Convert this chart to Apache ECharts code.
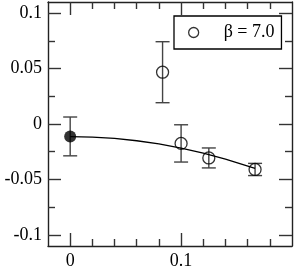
<!DOCTYPE html>
<html><head><meta charset="utf-8">
<script src="https://cdn.jsdelivr.net/npm/echarts@6/dist/echarts.min.js"></script>
<style>html,body{margin:0;padding:0;background:#fff}#c{width:295px;height:270px}</style>
</head><body><div id="c"></div>
<script>
// Data
const seriesName = 'β = 7.0';
const openX = [0.0833, 0.1, 0.125, 0.1667];
const openY = [0.0467, -0.0175, -0.0306, -0.0410];
const openErr = [0.0275, 0.0168, 0.0090, 0.0055];
const filledX = [0];
const filledY = [-0.0112];
const filledErr = [0.0175];
const curveX = [0, 0.02, 0.04, 0.06, 0.08, 0.1, 0.12, 0.14, 0.1667];
const curveY = [-0.0114, -0.0118, -0.0130, -0.0151, -0.0180, -0.0217, -0.0262, -0.0316, -0.0400];
const xMajor = [0, 0.1];
const xMinor = [0.02, 0.04, 0.06, 0.08, 0.12, 0.14, 0.16, 0.18];
const yMajor = [-0.1, -0.05, 0, 0.05, 0.1];
const yMinor = [-0.075, -0.025, 0.025, 0.075];

const font = "'Liberation Serif', 'Times New Roman', Times, serif";
const lineCol = '#222';
const xr = {min: -0.02, max: 0.2};
const yr = {min: -0.11, max: 0.11};

function mkAxis(pos, range, ticks, len, labels, showLine) {
  return Object.assign({
    type: 'value', position: pos, ...range,
    splitLine: {show: false},
    axisLine: {show: showLine, onZero: false, lineStyle: {color: lineCol, width: 1.4}},
    axisTick: {show: true, inside: true, length: len, customValues: ticks, lineStyle: {color: '#333', width: 1.4}},
    axisLabel: labels ? {show: true, customValues: labels, color: '#000', fontFamily: font, fontSize: 18,
      margin: (pos === 'left' ? 6 : 6), formatter: v => String(v)} : {show: false}
  });
}

const errData = openX.map((x, i) => [x, openY[i], openErr[i]])
  .concat(filledX.map((x, i) => [x, filledY[i], filledErr[i]]));

const chart = echarts.init(document.getElementById('c'));
chart.setOption({
  animation: false,
  grid: {left: 48, right: 3, top: 2, bottom: 23},
  xAxis: [
    mkAxis('bottom', xr, xMajor, 13, xMajor, true),
    mkAxis('bottom', xr, xMinor, 7, null, false),
    mkAxis('top', xr, xMajor, 13, null, true),
    mkAxis('top', xr, xMinor, 7, null, false)
  ],
  yAxis: [
    mkAxis('left', yr, yMajor, 13, yMajor, true),
    mkAxis('left', yr, yMinor, 7, null, false),
    mkAxis('right', yr, yMajor, 13, null, true),
    mkAxis('right', yr, yMinor, 7, null, false)
  ],
  legend: {
    left: 174, top: 16, padding: [7, 7, 7, 14],
    borderColor: '#000', borderWidth: 1.3, backgroundColor: '#fff',
    itemWidth: 10, itemHeight: 10,
    textStyle: {fontFamily: font, fontSize: 18, color: '#000', lineHeight: 19, padding: [0, 0, 0, 20]},
    data: [{name: seriesName, icon: 'circle', itemStyle: {color: '#fff', borderColor: '#000', borderWidth: 1.3}}]
  },
  series: [
    {
      type: 'custom', name: 'err', z: 1,
      data: errData,
      renderItem: function (params, api) {
        const x = api.value(0), y = api.value(1), e = api.value(2);
        const top = api.coord([x, y + e]);
        const bot = api.coord([x, y - e]);
        const w = 7;
        const st = {stroke: '#444', lineWidth: 1.4};
        return {type: 'group', children: [
          {type: 'line', shape: {x1: top[0], y1: top[1], x2: bot[0], y2: bot[1]}, style: st},
          {type: 'line', shape: {x1: top[0] - w, y1: top[1], x2: top[0] + w, y2: top[1]}, style: st},
          {type: 'line', shape: {x1: bot[0] - w, y1: bot[1], x2: bot[0] + w, y2: bot[1]}, style: st}
        ]};
      }
    },
    {
      type: 'line', name: 'fit', z: 2, showSymbol: false, symbol: 'none',
      data: curveX.map((x, i) => [x, curveY[i]]),
      lineStyle: {color: '#000', width: 1.3}
    },
    {
      type: 'scatter', name: seriesName, z: 3, symbol: 'circle', symbolSize: 12,
      data: openX.map((x, i) => [x, openY[i]]),
      itemStyle: {color: 'rgba(0,0,0,0)', borderColor: '#000', borderWidth: 1.3}
    },
    {
      type: 'scatter', name: 'filled', z: 3, symbol: 'circle', symbolSize: 12,
      data: filledX.map((x, i) => [x, filledY[i]]),
      itemStyle: {color: '#000'}
    }
  ]
});
</script></body></html>
